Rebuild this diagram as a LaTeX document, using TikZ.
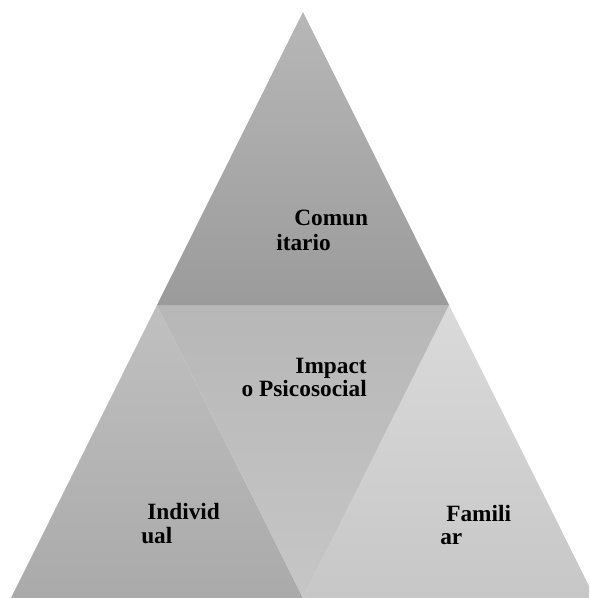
\documentclass[tikz,border=0pt]{standalone}
\usepackage{fontspec}
\setmainfont{Liberation Serif}
\begin{document}
\begin{tikzpicture}[x=0.75pt,y=-0.75pt,
  lbl/.style={font=\fontsize{17.5}{21}\selectfont\bfseries, inner sep=0pt}]
\useasboundingbox (0,0) rectangle (589,598);
\begin{scope}
\clip (0,0) rectangle (589,598);
% left
\shade[top color={rgb,255:red,192;green,192;blue,192}, bottom color={rgb,255:red,170;green,170;blue,170}]
  (157,305) -- (11,598) -- (303,598) -- cycle;
% right
\shade[top color={rgb,255:red,218;green,218;blue,218}, bottom color={rgb,255:red,199;green,199;blue,199}]
  (449,305) -- (303,598) -- (595,598) -- cycle;
% middle
\shade[top color={rgb,255:red,183;green,183;blue,183}, bottom color={rgb,255:red,198;green,198;blue,198}]
  (157,305) -- (449,305) -- (303,598) -- cycle;
% top
\shade[top color={rgb,255:red,183;green,183;blue,183}, bottom color={rgb,255:red,155;green,155;blue,155}]
  (303,12) -- (157,305) -- (449,305) -- cycle;
\end{scope}
\node[lbl, anchor=base west] (c1) at (294,226) {Comun};
\node[lbl, anchor=base west] (c2) at (276,250) {itario};
\node[lbl, anchor=base east] (i1) at (367,373) {Impact};
\node[lbl, anchor=base east] (i2) at (367,396) {o Psicosocial};
\node[lbl, anchor=base west] (d1) at (147,519) {Individ};
\node[lbl, anchor=base west] (d2) at (141,543) {ual};
\node[lbl, anchor=base west] (f1) at (446,521) {Famili};
\node[lbl, anchor=base west] (f2) at (440,544) {ar};
\end{tikzpicture}
\end{document}
